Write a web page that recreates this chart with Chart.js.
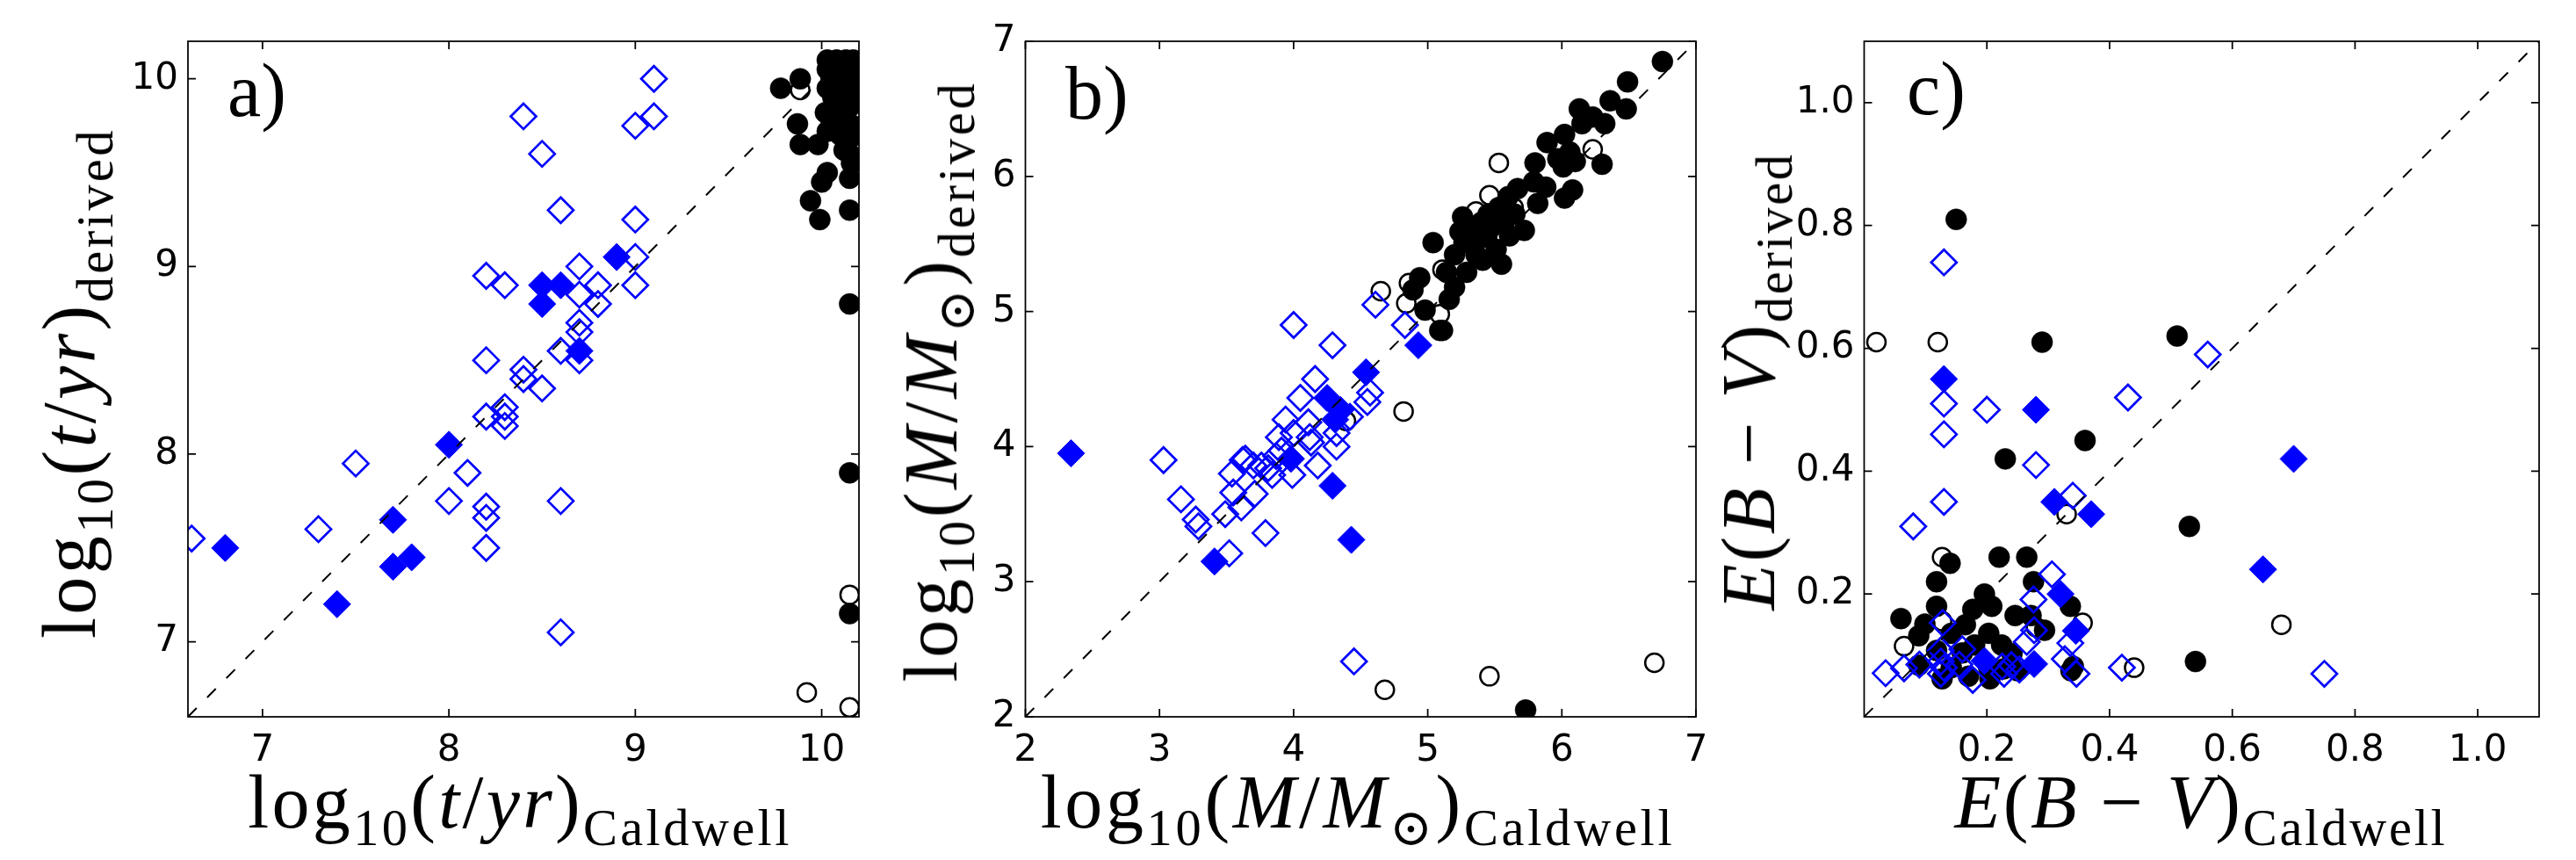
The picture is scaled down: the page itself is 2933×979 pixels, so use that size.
<!DOCTYPE html>
<html><head><meta charset="utf-8">
<script src="https://cdn.jsdelivr.net/npm/chart.js@4.4.1/dist/chart.umd.min.js"></script>
<style>
html,body{margin:0;padding:0;background:#fff;width:2933px;height:979px;overflow:hidden;position:relative}
canvas{position:absolute;top:0}
.lab{position:absolute;font-family:"Liberation Serif","DejaVu Serif",serif;font-size:86px;line-height:1;white-space:nowrap;color:#000}
.lab sub{font-size:0.68em;vertical-align:-0.34em;line-height:0}
.lab i{font-style:italic}
.xlab{transform:translateX(-50%)}
.ylab{transform:translate(-50%,-50%) rotate(-90deg)}
.sun{font-family:"DejaVu Serif",serif;font-size:0.8em}
</style>
</head><body>
<canvas id="ca" width="1000" height="979" style="left:0px"></canvas>
<canvas id="cb" width="960" height="979" style="left:1000px"></canvas>
<canvas id="cc" width="973" height="979" style="left:1960px"></canvas>

<div class="lab" style="left:259px;top:60px">a)</div>
<div class="lab" style="left:1213px;top:63px">b)</div>
<div class="lab" style="left:2171px;top:58px">c)</div>

<div class="lab xlab" data-w="616" style="left:592px;top:870px">log<sub>10</sub>(<i>t</i>/<i>yr</i>)<sub>Caldwell</sub></div>
<div class="lab xlab" data-w="719" style="left:1546px;top:870px">log<sub>10</sub>(<i>M</i>/<i>M</i><sub class="sun">⊙</sub>)<sub>Caldwell</sub></div>
<div class="lab xlab" data-w="559" style="left:2506px;top:870px"><i>E</i>(<i>B</i> − <i>V</i>)<sub>Caldwell</sub></div>

<div class="lab ylab" data-w="578" style="left:79px;top:436px">log<sub>10</sub>(<i>t</i>/<i>yr</i>)<sub>derived</sub></div>
<div class="lab ylab" data-w="681" style="left:1060px;top:434px">log<sub>10</sub>(<i>M</i>/<i>M</i><sub class="sun">⊙</sub>)<sub>derived</sub></div>
<div class="lab ylab" data-w="519" style="left:1991px;top:434px"><i>E</i>(<i>B</i> − <i>V</i>)<sub>derived</sub></div>

<script>
// ---------- Panel a: log10(t/yr) ----------
const aTicks = [7, 8, 9, 10];
const aOpenX = [6.62,7.3,7.5,8.0,8.1,8.2,8.2,8.2,8.2,8.2,8.2,8.3,8.3,8.3,8.3,8.4,8.4,8.4,8.5,8.5,8.6,8.6,8.6,8.6,8.7,8.7,8.7,8.7,8.7,8.8,8.8,9.0,9.0,9.0,9.0,9.1,9.1];
const aOpenY = [7.55,7.6,7.95,7.75,7.9,7.72,7.66,7.5,8.5,8.2,8.95,8.9,8.25,8.2,8.15,9.8,8.45,8.4,9.6,8.35,9.3,8.55,7.75,7.05,9.0,8.85,8.7,8.65,8.5,8.9,8.8,9.75,9.25,9.05,8.9,10.0,9.8];
const aFillX = [6.8,7.4,7.7,7.7,7.8,8.0,8.5,8.5,8.6,8.7,8.9];
const aFillY = [7.5,7.2,7.65,7.4,7.45,8.05,8.9,8.8,8.9,8.55,9.05];
const aDotX = [9.78,9.885,9.87,9.885,9.98,10.03,10.0,9.94,9.99,10.15,10.15,10.15,10.15,10.15,10.15,
  10.03,10.08,10.13,10.17,10.03,10.08,10.13,10.17,10.05,10.1,10.15,10.03,10.1,10.16,10.06,10.12,10.17,
  10.02,10.08,10.15,10.05,10.12,10.17,10.03,10.1,10.15,10.12,10.16];
const aDotY = [9.95,10.0,9.76,9.65,9.65,9.5,9.45,9.35,9.25,9.47,9.3,9.6,8.8,7.9,7.15,
  10.1,10.1,10.1,10.1,10.05,10.05,10.05,10.05,10.0,10.0,10.0,9.95,9.95,9.95,9.9,9.9,9.9,
  9.82,9.85,9.85,9.78,9.78,9.75,9.72,9.7,9.68,9.62,9.55];
const aRingX = [9.885,10.15,9.92,10.15];
const aRingY = [9.94,7.25,6.73,6.65];

// ---------- Panel b: log10(M/Msun) ----------
const bTicks = [2, 3, 4, 5, 6, 7];
const bOpenX = [3.03,3.16,3.27,3.29,3.49,3.52,3.54,3.55,3.61,3.62,3.64,3.70,3.71,3.76,3.79,3.81,3.84,3.87,3.89,3.91,3.94,3.99,4.0,4.0,4.05,4.11,4.12,4.13,4.16,4.18,4.29,4.32,4.32,4.42,4.45,4.55,4.57,4.61,4.83];
const bOpenY = [3.90,3.61,3.46,3.41,3.50,3.21,3.80,3.66,3.55,3.90,3.91,3.86,3.65,3.86,3.36,3.84,3.79,3.93,4.07,3.97,4.20,3.79,4.10,4.90,4.36,4.18,4.07,4.03,4.50,3.86,4.75,4.10,4.0,4.22,2.41,4.33,4.40,5.05,4.90];
const bFillX = [2.34,3.41,3.98,4.25,4.29,4.31,4.35,4.43,4.54,4.93];
const bFillY = [3.95,3.15,3.91,4.36,3.71,4.20,4.27,3.31,4.55,4.75];
const bDotX = [6.75,6.49,6.36,6.48,6.13,6.23,6.32,6.15,6.30,6.02,5.89,6.06,6.10,5.97,5.80,6.01,6.08,6.02,5.82,5.88,5.79,5.67,5.60,5.53,5.45,5.26,5.40,5.57,5.72,5.61,5.36,5.24,5.44,5.27,5.04,5.51,5.36,5.20,5.55,5.41,5.29,5.14,4.94,5.20,5.16,4.89,4.98,5.11,5.09,5.35,5.47,5.65,5.73];
const bDotY = [6.85,6.70,6.56,6.50,6.50,6.44,6.39,6.39,6.09,6.31,6.25,6.18,6.11,6.13,6.10,6.07,5.90,5.84,5.80,5.92,5.96,5.91,5.85,5.77,5.72,5.70,5.66,5.66,5.60,5.56,5.59,5.59,5.55,5.51,5.51,5.46,5.42,5.42,5.35,5.38,5.29,5.29,5.25,5.18,5.09,5.16,5.01,4.86,4.86,5.50,5.62,5.72,2.05];
const bRingX = [4.39,4.65,4.68,4.82,4.86,4.84,5.09,5.11,5.36,5.46,5.46,5.53,5.64,6.23,6.69];
const bRingY = [4.19,5.15,2.20,4.26,5.21,5.06,4.98,5.31,5.74,5.86,2.30,6.10,5.77,6.20,2.40];

// ---------- Panel c: E(B-V) ----------
const cTicks = [0.2, 0.4, 0.6, 0.8, 1.0];
const cOpenX = [0.13,0.13,0.13,0.13,0.2,0.28,0.43,0.56,0.34,0.08,0.306,0.276,0.128,0.277,0.265,0.336,0.75,0.42,0.035,0.065,0.09,0.125,0.125,0.13,0.125,0.16,0.155,0.177,0.225,0.24,0.228,0.253,0.327,0.346];
const cOpenY = [0.74,0.51,0.46,0.35,0.50,0.41,0.52,0.59,0.36,0.31,0.232,0.191,0.153,0.141,0.122,0.12,0.07,0.08,0.071,0.079,0.085,0.108,0.09,0.08,0.07,0.11,0.085,0.06,0.082,0.084,0.07,0.077,0.094,0.07];
const cFillX = [0.13,0.28,0.70,0.31,0.37,0.65,0.32,0.345,0.196,0.277];
const cFillY = [0.55,0.50,0.42,0.35,0.33,0.24,0.20,0.14,0.091,0.086];
const cDotX = [0.15,0.29,0.51,0.36,0.23,0.53,0.54,0.22,0.265,0.14,0.118,0.276,0.196,0.336,0.118,0.177,0.208,0.06,0.246,0.272,0.099,0.165,0.294,0.089,0.142,0.203,0.18,0.224,0.118,0.16,0.241,0.089,0.142,0.203,0.227,0.25,0.127,0.17,0.205,0.341,0.337];
const cDotY = [0.81,0.61,0.62,0.45,0.42,0.31,0.09,0.26,0.26,0.25,0.22,0.22,0.20,0.18,0.18,0.175,0.18,0.16,0.165,0.165,0.151,0.15,0.141,0.132,0.136,0.136,0.117,0.117,0.108,0.104,0.103,0.084,0.08,0.08,0.078,0.075,0.062,0.066,0.062,0.082,0.075];
const cRingX = [0.02,0.12,0.127,0.33,0.68,0.44,0.356,0.28,0.065,0.127];
const cRingY = [0.61,0.61,0.26,0.33,0.15,0.08,0.153,0.146,0.115,0.156];

const BLUE = '#0000ff';
const TL = 9;
const pts = (xs, ys) => xs.map((x, i) => ({x, y: ys[i]}));

const framePlugin = {
  id: 'frame',
  afterDatasetsDraw(chart) {
    const {ctx, chartArea: {left, right, top, bottom}, scales: {x, y}} = chart;
    ctx.save();
    ctx.strokeStyle = '#000';
    ctx.lineWidth = 1.75;
    ctx.beginPath();
    for (const t of x.ticks) {
      const px = x.getPixelForValue(t.value);
      ctx.moveTo(px, bottom); ctx.lineTo(px, bottom - TL);
      ctx.moveTo(px, top); ctx.lineTo(px, top + TL);
    }
    for (const t of y.ticks) {
      const py = y.getPixelForValue(t.value);
      ctx.moveTo(left, py); ctx.lineTo(left + TL, py);
      ctx.moveTo(right, py); ctx.lineTo(right - TL, py);
    }
    ctx.stroke();
    ctx.strokeRect(left, top, right - left, bottom - top);
    ctx.restore();
  }
};

function makePanel(id, lim, ticks, fmt, yW, padR, data) {
  const [lo, hi] = lim;
  const tickFont = {family: 'DejaVu Sans', size: 42};
  const axis = (isY) => ({
    type: 'linear', min: lo, max: hi,
    grid: {display: false, drawTicks: false},
    border: {display: false},
    ticks: {font: tickFont, color: '#000', padding: isY ? 11 : 14, callback: v => fmt(v), autoSkip: false, maxRotation: 0},
    afterBuildTicks: s => { s.ticks = ticks.map(v => ({value: v})); },
    afterFit: isY ? (s => { s.width = yW; }) : (s => { s.height = 163; })
  });
  new Chart(document.getElementById(id), {
    type: 'scatter',
    data: {
      datasets: [
        {type: 'line', data: [{x: lo, y: lo}, {x: hi, y: hi}], borderColor: '#000', borderWidth: 2,
         borderDash: [14, 17], pointRadius: 0, fill: false, clip: 0},
        {data: pts(data.fillX, data.fillY), pointStyle: 'rectRot', pointRadius: 15.5,
         backgroundColor: BLUE, borderColor: BLUE, pointBorderWidth: 1, clip: 0},
        {data: pts(data.openX, data.openY), pointStyle: 'rectRot', pointRadius: 14.5,
         backgroundColor: 'rgba(0,0,0,0)', borderColor: BLUE, pointBorderWidth: 2.7, clip: 0},
        {data: pts(data.dotX, data.dotY), pointStyle: 'circle', pointRadius: 12,
         backgroundColor: '#000', borderColor: '#000', pointBorderWidth: 0.5, clip: 0},
        {data: pts(data.ringX, data.ringY), pointStyle: 'circle', pointRadius: 10.5,
         backgroundColor: '#fff', borderColor: '#000', pointBorderWidth: 2.5, clip: 0}
      ]
    },
    options: {
      responsive: false, animation: false, devicePixelRatio: 1,
      layout: {padding: {top: 47, right: padR, left: 0, bottom: 0}},
      plugins: {legend: {display: false}, tooltip: {enabled: false}},
      scales: {x: axis(false), y: axis(true)}
    },
    plugins: [framePlugin]
  });
}

makePanel('ca', [6.6, 10.2], aTicks, v => String(v), 214, 22,
  {fillX: aFillX, fillY: aFillY, openX: aOpenX, openY: aOpenY, dotX: aDotX, dotY: aDotY, ringX: aRingX, ringY: aRingY});
makePanel('cb', [2, 7], bTicks, v => String(v), 167.5, 29,
  {fillX: bFillX, fillY: bFillY, openX: bOpenX, openY: bOpenY, dotX: bDotX, dotY: bDotY, ringX: bRingX, ringY: bRingY});
makePanel('cc', [0, 1.1], cTicks, v => v.toFixed(1), 162.5, 42,
  {fillX: cFillX, fillY: cFillY, openX: cOpenX, openY: cOpenY, dotX: cDotX, dotY: cDotY, ringX: cRingX, ringY: cRingY});

// stretch axis titles (letter spacing) so they span the same length as in the original
function fitLabels() {
  document.querySelectorAll('.lab[data-w]').forEach(el => {
    el.style.letterSpacing = '0px';
    const w = el.offsetWidth;
    const n = el.textContent.length;
    const target = +el.dataset.w;
    const ls = (target - w) / Math.max(1, n - 1);
    el.style.letterSpacing = ls.toFixed(2) + 'px';
  });
}
fitLabels();
if (document.fonts && document.fonts.ready) document.fonts.ready.then(fitLabels);
</script>
</body></html>
